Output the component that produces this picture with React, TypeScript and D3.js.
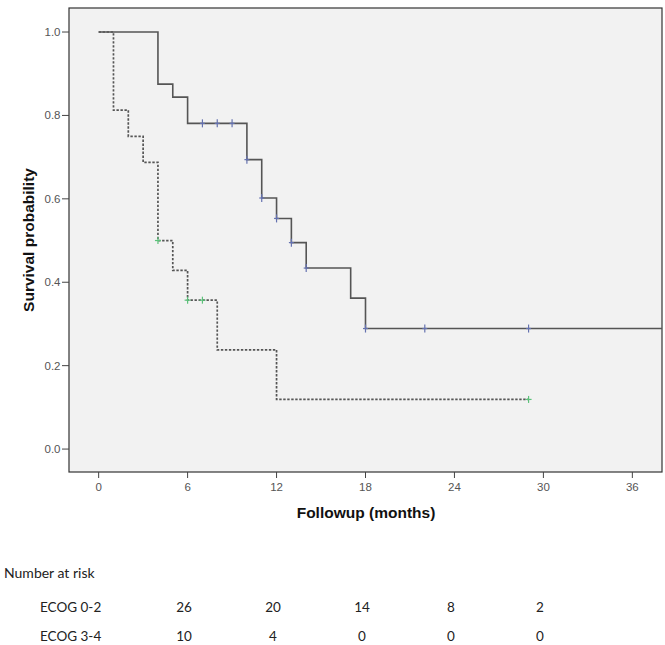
import React from "react";
import * as d3 from "d3";

// Kaplan–Meier step data (time in months, survival probability)
const ecog02Times = [0, 4, 5, 6, 10, 11, 12, 13, 14, 17, 18];
const ecog02Surv = [1.0, 0.875, 0.844, 0.781, 0.694, 0.602, 0.553, 0.495, 0.434, 0.362, 0.289];
const ecog02End = 38;
const ecog02Censor = [7, 8, 9, 10, 11, 12, 13, 14, 18, 22, 29];

const ecog34Times = [0, 1, 2, 3, 4, 5, 6, 8, 12];
const ecog34Surv = [1.0, 0.8125, 0.75, 0.6875, 0.5, 0.4286, 0.357, 0.238, 0.119];
const ecog34End = 29;
const ecog34Censor = [4, 6, 7, 29];

const xTicks = [0, 6, 12, 18, 24, 30, 36];
const yTicks = [0, 0.2, 0.4, 0.6, 0.8, 1.0];

const riskColumns = ["0", "6", "12", "18", "24"];
const riskGroups = ["ECOG 0-2", "ECOG 3-4"];
const riskEcog02 = [26, 20, 14, 8, 2];
const riskEcog34 = [10, 4, 0, 0, 0];

const W = 665;
const H = 645;
const frame = { left: 69, right: 662, top: 8, bottom: 472 };

function stepPath(times: number[], surv: number[], end: number, x: any, y: any) {
  const pts: [number, number][] = [];
  times.forEach((t, i) => {
    if (i > 0) pts.push([x(t), y(surv[i - 1])]);
    pts.push([x(t), y(surv[i])]);
  });
  pts.push([x(end), y(surv[surv.length - 1])]);
  return d3.line()(pts) as string;
}

function survAt(times: number[], surv: number[], t: number) {
  let v = surv[0];
  times.forEach((tt, i) => {
    if (tt <= t) v = surv[i];
  });
  return v;
}

export default function App() {
  const x = d3.scaleLinear().domain([-2, 38]).range([frame.left, frame.right]);
  const y = d3.scaleLinear().domain([-0.055, 1.0576]).range([frame.bottom, frame.top]);
  const riskX = d3.scalePoint<string>().domain(riskColumns).range([184, 540]);
  const rowY = d3.scalePoint<string>().domain(riskGroups).range([607, 636]);

  const tickColor = "#444";
  const axisFont = "'Liberation Sans', Arial, sans-serif";
  const tableFont = "Lato, 'Open Sans', sans-serif";

  return (
    <svg
      width={W}
      height={H}
      style={{ position: "absolute", left: 0, top: 0, background: "#fff" }}
    >
      <rect
        x={frame.left}
        y={frame.top}
        width={frame.right - frame.left}
        height={frame.bottom - frame.top}
        fill="#f2f2f2"
        stroke="#333"
        strokeWidth={1.2}
      />
      {/* y ticks */}
      {yTicks.map((v) => (
        <g key={"y" + v}>
          <line x1={62} x2={frame.left} y1={y(v)} y2={y(v)} stroke={tickColor} strokeWidth={1} />
          <text
            x={60.5}
            y={y(v)}
            dy="0.35em"
            textAnchor="end"
            fontSize={11.5}
            fill="#555"
            fontFamily={axisFont}
          >
            {v.toFixed(1)}
          </text>
        </g>
      ))}
      {/* x ticks */}
      {xTicks.map((v) => (
        <g key={"x" + v}>
          <line x1={x(v)} x2={x(v)} y1={frame.bottom} y2={frame.bottom + 6} stroke={tickColor} strokeWidth={1} />
          <text
            x={x(v)}
            y={491}
            textAnchor="middle"
            fontSize={11.5}
            fill="#555"
            fontFamily={axisFont}
          >
            {v}
          </text>
        </g>
      ))}
      {/* curves */}
      <path
        d={stepPath(ecog34Times, ecog34Surv, ecog34End, x, y)}
        fill="none"
        stroke="#555"
        strokeWidth={1.7}
        strokeDasharray="2.4,1.6"
      />
      <path
        d={stepPath(ecog02Times, ecog02Surv, ecog02End, x, y)}
        fill="none"
        stroke="#555"
        strokeWidth={1.6}
      />
      {ecog02Censor.map((t, i) => {
        const cx = x(t);
        const cy = y(survAt(ecog02Times, ecog02Surv, t));
        return (
          <g key={"c1" + i} stroke="#6572b0" strokeWidth={1.2}>
            <line x1={cx} x2={cx} y1={cy - 4} y2={cy + 4} />
            <line x1={cx - 2.5} x2={cx + 2.5} y1={cy} y2={cy} />
          </g>
        );
      })}
      {ecog34Censor.map((t, i) => {
        const cx = x(t);
        const cy = y(survAt(ecog34Times, ecog34Surv, t));
        return (
          <g key={"c2" + i} stroke="#5cc27a" strokeWidth={1.2}>
            <line x1={cx} x2={cx} y1={cy - 3.5} y2={cy + 3.5} />
            <line x1={cx - 3} x2={cx + 3} y1={cy} y2={cy} />
          </g>
        );
      })}
      {/* axis titles */}
      <text
        x={366}
        y={518}
        textAnchor="middle"
        fontSize={15.5}
        fontWeight="bold"
        fill="#111"
        fontFamily={axisFont}
      >
        Followup (months)
      </text>
      <text
        transform={`translate(34,240) rotate(-90)`}
        textAnchor="middle"
        fontSize={15.5}
        fontWeight="bold"
        fill="#111"
        fontFamily={axisFont}
      >
        Survival probability
      </text>
      {/* number at risk table */}
      <text x={4} y={578} fontSize={14} fill="#222" fontFamily={tableFont}>
        Number at risk
      </text>
      {riskGroups.map((g, gi) => {
        const vals = gi === 0 ? riskEcog02 : riskEcog34;
        const ry = rowY(g) as number;
        return (
          <g key={g} fontFamily={tableFont} fontSize={13.5} fill="#222">
            <text x={40} y={ry} dy="0.35em">
              {g}
            </text>
            {vals.map((v, i) => (
              <text key={i} x={riskX(riskColumns[i])} y={ry} dy="0.35em" textAnchor="middle">
                {v}
              </text>
            ))}
          </g>
        );
      })}
    </svg>
  );
}
